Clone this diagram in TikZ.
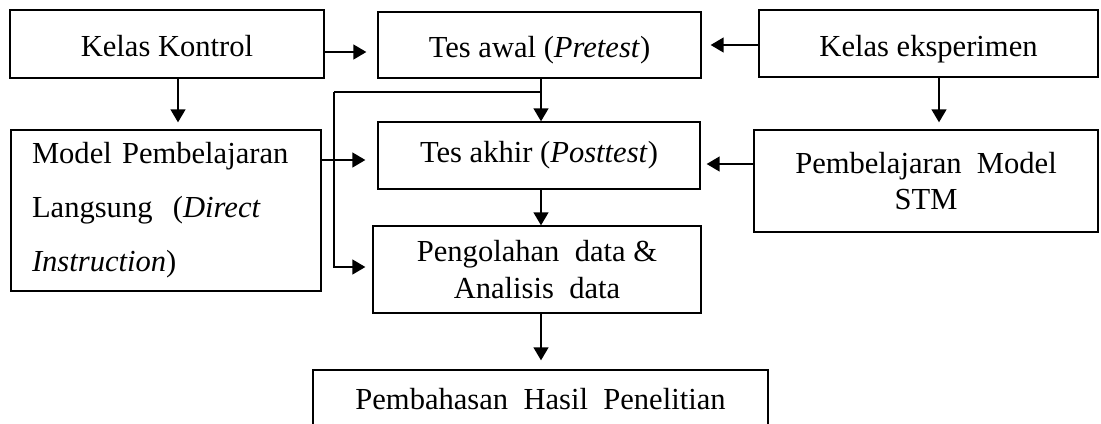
\documentclass[tikz,border=0pt]{standalone}
\usepackage{fontspec}
\setmainfont{Liberation Serif}
\usepackage{tikz}
\usetikzlibrary{arrows.meta,calc}

\begin{document}
\begin{tikzpicture}[x=0.02cm,y=-0.02cm,
  box/.style={draw,line width=0.8pt,inner sep=0pt,align=center,
              font=\fontsize{17.4}{21}\selectfont},
  topbox/.style={box,text height=0.52cm,text depth=0pt},
  arr/.style={-{Triangle[length=0.26cm,width=0.3cm]},line width=0.8pt}
]
\clip (0,0) rectangle (1101,423);
\node[topbox,minimum width=6.28cm,minimum height=1.36cm] (kontrol) at (167,44) {Kelas Kontrol};
\node[topbox,minimum width=6.46cm,minimum height=1.32cm] (pretest) at (539.5,45) {Tes awal (\textit{Pretest})};
\node[topbox,minimum width=6.78cm,minimum height=1.34cm] (eksperimen) at (928.5,43.5) {Kelas eksperimen};
\node[box,minimum width=6.2cm,minimum height=3.22cm,text width=5.36cm,align=left,
      font=\fontsize{17.4}{30.8}\selectfont] (direct) at (166,210.5)
  {Model Pembelajaran\\Langsung\ \ (\textit{Direct}\\\textit{Instruction})};
\node[box,minimum width=6.44cm,minimum height=1.34cm] (posttest) at (539,155.5) {Tes akhir\ (\textit{Posttest})};
\node[box,minimum width=6.88cm,minimum height=2.04cm] (stm) at (926,181) {Pembelajaran\ \ Model\\STM};
\node[box,minimum width=6.56cm,minimum height=1.74cm] (olah) at (537,269.5)
  {Pengolahan\ \ data \&\\Analisis\ \ data};
\node[box,minimum width=9.1cm,minimum height=1.16cm] (bahas) at (540.5,399) {Pembahasan\ \ Hasil\ \ Penelitian};
\coordinate (split) at (541,92);
\coordinate (bend) at (334,92);
\draw[arr,shorten >=0.22cm] (kontrol.east |- 0,52) -- (pretest.west |- 0,52);
\draw[arr,shorten >=0.18cm] (eksperimen.west |- 0,45) -- (pretest.east |- 0,45);
\draw[arr,shorten >=0.14cm] (kontrol.south -| 178,0) -- (direct.north -| 178,0);
\draw[arr,shorten >=0.14cm] (eksperimen.south -| 939,0) -- (stm.north -| 939,0);
\draw[arr] (pretest.south -| split) -- (posttest.north -| split);
\draw[line width=0.8pt] (split) -- (bend);
\draw[arr,shorten >=0.14cm] (bend) |- (olah.west |- 0,267);
\draw[arr,shorten >=0.24cm] (direct.east |- 0,160) -- (posttest.west |- 0,160);
\draw[arr,shorten >=0.12cm] (stm.west |- 0,164) -- (posttest.east |- 0,164);
\draw[arr] (posttest.south -| split) -- (olah.north -| split);
\draw[arr,shorten >=0.18cm] (olah.south -| split) -- (bahas.north -| split);
\end{tikzpicture}
\end{document}
